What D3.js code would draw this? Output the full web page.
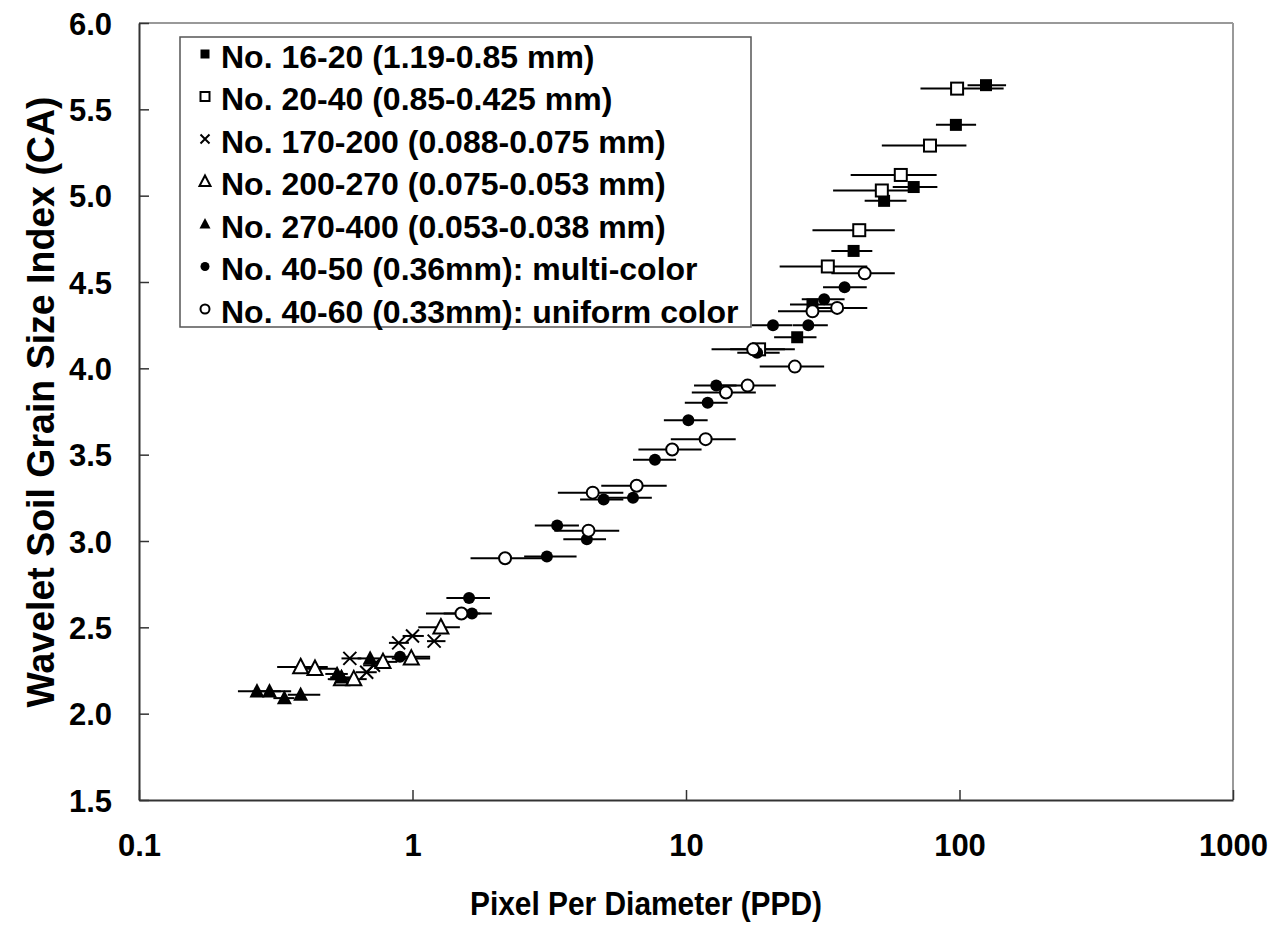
<!DOCTYPE html>
<html>
<head>
<meta charset="utf-8">
<script src="https://cdn.jsdelivr.net/npm/d3@7"></script>
<style>
  body { margin: 0; background: #fff; }
  text { font-family: Arial, "Liberation Sans", sans-serif; font-weight: bold; fill: #000; }
</style>
</head>
<body>
<div id="chart"></div>
<script>
// each row: [ppd, ca, ppdLow, ppdHigh]
const no16_20 = [
  [125, 5.64, 107, 148], [97, 5.41, 82, 115], [68, 5.05, 57, 83], [53, 4.97, 45, 64],
  [41, 4.68, 34, 48], [29, 4.37, 24, 37.5], [25.5, 4.18, 21, 30]
];
const no20_40 = [
  [98, 5.62, 72, 145], [78, 5.29, 52, 106], [61, 5.12, 40, 82.5], [52, 5.03, 34.5, 66],
  [43, 4.80, 29, 58], [33, 4.59, 22, 46], [18.5, 4.11, 14.5, 23]
];
const no170_200 = [
  [1.2, 2.42, 1.13, 1.32], [1.0, 2.45, 0.92, 1.10], [0.89, 2.41, 0.82, 0.97],
  [0.59, 2.32, 0.55, 0.65], [0.72, 2.28, 0.66, 0.78], [0.68, 2.24, 0.62, 0.74]
];
const no200_270 = [
  [1.27, 2.50, 1.05, 1.49], [0.99, 2.32, 0.84, 1.16], [0.78, 2.30, 0.70, 0.88],
  [0.39, 2.27, 0.32, 0.49], [0.44, 2.26, 0.38, 0.53], [0.55, 2.20, 0.49, 0.62],
  [0.61, 2.20, 0.55, 0.68]
];
const no270_400 = [
  [0.27, 2.13, 0.23, 0.33], [0.30, 2.13, 0.26, 0.36], [0.34, 2.09, 0.31, 0.37],
  [0.39, 2.11, 0.35, 0.46], [0.53, 2.23, 0.48, 0.58], [0.55, 2.21, 0.50, 0.60],
  [0.70, 2.32, 0.63, 0.78]
];
const no40_50 = [
  [38, 4.47, 31.7, 45.8], [32, 4.40, 26.5, 38], [20.8, 4.25, 17.4, 24.5], [28, 4.25, 24.6, 33],
  [18.2, 4.09, 15.4, 22], [12.9, 3.90, 10.7, 15.3], [12, 3.80, 9.9, 14.2], [10.2, 3.70, 8.3, 12],
  [7.7, 3.47, 6.4, 9.2], [6.4, 3.25, 4.85, 7.5], [5.0, 3.24, 4.1, 5.9], [3.38, 3.09, 2.8, 4.06],
  [4.34, 3.01, 3.56, 5.1], [3.1, 2.91, 2.56, 3.98], [1.61, 2.67, 1.33, 1.92],
  [1.65, 2.58, 1.3, 1.95], [0.90, 2.33, 0.79, 1.16]
];
const no40_60 = [
  [45, 4.55, 34, 58], [35.7, 4.35, 30, 46], [29, 4.33, 21.7, 37], [17.6, 4.11, 12.4, 25],
  [25, 4.01, 18.6, 32], [16.8, 3.90, 12.9, 21.3], [14, 3.86, 10.5, 18], [11.8, 3.59, 8.8, 15.2],
  [8.9, 3.53, 6.7, 11.4], [6.6, 3.32, 4.9, 8.5], [4.56, 3.28, 3.4, 5.9], [4.4, 3.06, 3.3, 5.7],
  [2.18, 2.90, 1.63, 3.0], [1.51, 2.58, 1.12, 1.77]
];

const seriesNames = [
  "No. 16-20 (1.19-0.85 mm)",
  "No. 20-40 (0.85-0.425 mm)",
  "No. 170-200 (0.088-0.075 mm)",
  "No. 200-270 (0.075-0.053 mm)",
  "No. 270-400 (0.053-0.038 mm)",
  "No. 40-50 (0.36mm): multi-color",
  "No. 40-60 (0.33mm): uniform color"
];
const seriesMarks = ["squareFill", "square", "cross", "triangle", "triangleFill", "circleFill", "circle"];
const seriesData = [no16_20, no20_40, no170_200, no200_270, no270_400, no40_50, no40_60];

const xTicks = [0.1, 1, 10, 100, 1000];
const yTicks = [1.5, 2.0, 2.5, 3.0, 3.5, 4.0, 4.5, 5.0, 5.5, 6.0];

const W = 1273, H = 932;
const plotL = 139, plotR = 1233, plotT = 23, plotB = 800;

const svg = d3.select("#chart").append("svg")
  .attr("width", W)
  .attr("height", H);

const x = d3.scaleLog().domain([0.1, 1000]).range([plotL, plotR]);
const y = d3.scaleLinear().domain([1.5, 6]).range([plotB, plotT]);

// frame
svg.append("line").attr("x1", plotL).attr("x2", plotR).attr("y1", plotT).attr("y2", plotT)
  .attr("stroke", "#999").attr("stroke-width", 2);
svg.append("line").attr("x1", plotR).attr("x2", plotR).attr("y1", plotT).attr("y2", plotB)
  .attr("stroke", "#999").attr("stroke-width", 2);

const axisY = d3.axisLeft(y).tickValues(yTicks).tickFormat(d3.format(".1f"))
  .tickSizeInner(-10).tickSizeOuter(0).tickPadding(27);
const axisX = d3.axisBottom(x).tickValues(xTicks).tickFormat(d => String(d))
  .tickSizeInner(-10).tickSizeOuter(0).tickPadding(34);

const gy = svg.append("g").attr("transform", `translate(${plotL},0)`).call(axisY);
const gx = svg.append("g").attr("transform", `translate(0,${plotB})`).call(axisX);

[gy, gx].forEach(g => {
  g.select(".domain").attr("stroke", "#333").attr("stroke-width", 2);
  g.selectAll(".tick line").attr("stroke", "#333").attr("stroke-width", 1.5);
  g.selectAll(".tick text")
    .attr("font-size", 31)
    .attr("font-family", "Arial, 'Liberation Sans', sans-serif")
    .attr("font-weight", "bold")
    .attr("fill", "#000");
});
gy.selectAll(".tick text").attr("dy", "0.36em");

// axis titles
svg.append("text")
  .attr("x", 646).attr("y", 915)
  .attr("text-anchor", "middle")
  .attr("font-size", 34)
  .attr("textLength", 352)
  .attr("lengthAdjust", "spacingAndGlyphs")
  .text("Pixel Per Diameter (PPD)");

svg.append("text")
  .attr("transform", "translate(54,402) rotate(-90)")
  .attr("text-anchor", "middle")
  .attr("font-size", 38)
  .attr("textLength", 611)
  .attr("lengthAdjust", "spacingAndGlyphs")
  .text("Wavelet Soil Grain Size Index (CA)");

// marker drawing
function drawMark(g, kind, s) {
  const h = s / 2;
  if (kind === "squareFill" || kind === "square") {
    g.append("rect").attr("x", -h).attr("y", -h).attr("width", s).attr("height", s)
      .attr("fill", kind === "squareFill" ? "#000" : "#fff")
      .attr("stroke", "#000").attr("stroke-width", kind === "square" ? 2 : 0);
  } else if (kind === "circleFill" || kind === "circle") {
    g.append("circle").attr("r", h)
      .attr("fill", kind === "circleFill" ? "#000" : "#fff")
      .attr("stroke", "#000").attr("stroke-width", kind === "circle" ? 2 : 0);
  } else if (kind === "triangleFill" || kind === "triangle") {
    const t = s * 0.55;
    g.append("path").attr("d", `M0,${-t}L${h},${t * 0.75}L${-h},${t * 0.75}Z`)
      .attr("fill", kind === "triangleFill" ? "#000" : "#fff")
      .attr("stroke", "#000").attr("stroke-width", kind === "triangle" ? 2 : 0);
  } else if (kind === "cross") {
    g.append("path").attr("d", `M${-h},${-h}L${h},${h}M${-h},${h}L${h},${-h}`)
      .attr("fill", "none").attr("stroke", "#000").attr("stroke-width", 2);
  }
}

const plot = svg.append("g");

// error bars first
seriesData.forEach(rows => {
  plot.selectAll(null).data(rows).enter().append("line")
    .attr("x1", d => x(d[2]))
    .attr("x2", d => x(d[3]))
    .attr("y1", d => y(d[1]))
    .attr("y2", d => y(d[1]))
    .attr("stroke", "#000")
    .attr("stroke-width", 2);
});

seriesData.forEach((rows, i) => {
  const kind = seriesMarks[i];
  const size = kind.startsWith("triangle") ? 15 : kind === "cross" ? 13 : 12;
  plot.selectAll(null).data(rows).enter().append("g")
    .attr("transform", d => `translate(${x(d[0])},${y(d[1])})`)
    .each(function () { drawMark(d3.select(this), kind, size); });
});

// legend
const legend = svg.append("g");
legend.append("rect")
  .attr("x", 180).attr("y", 37).attr("width", 571).attr("height", 290)
  .attr("fill", "#fff").attr("stroke", "#555").attr("stroke-width", 1.5);

seriesNames.forEach((name, i) => {
  const cy = 56 + i * 42.5;
  const kind = seriesMarks[i];
  const m = legend.append("g").attr("transform", `translate(205,${cy - 2})`);
  drawMark(m, kind, kind.startsWith("triangle") ? 11 : 9);
  legend.append("text")
    .attr("x", 221).attr("y", cy)
    .attr("dy", "0.36em")
    .attr("font-size", 32)
    .text(name);
});
</script>
</body>
</html>
